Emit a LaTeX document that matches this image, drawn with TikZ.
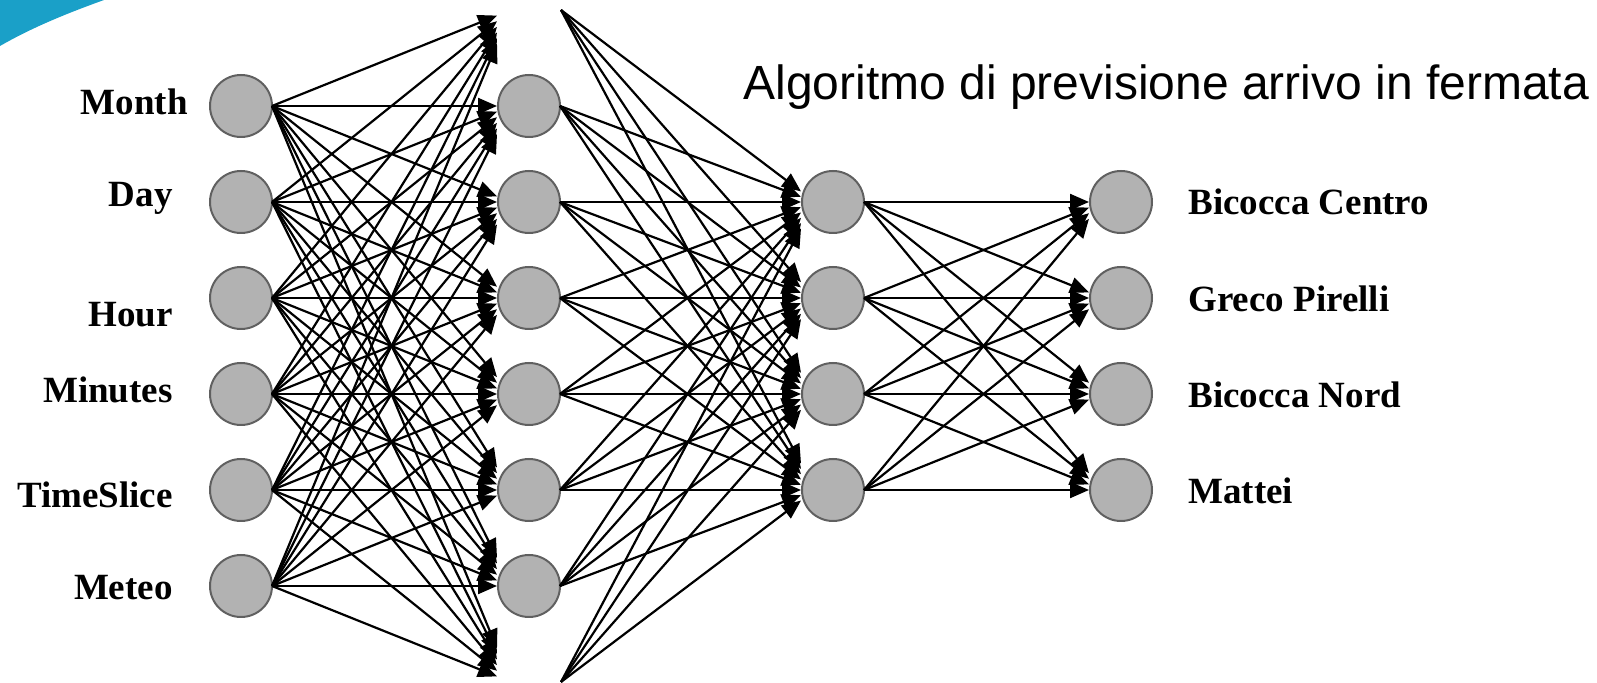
\documentclass[tikz,border=0pt]{standalone}
\usepackage{fontspec}
\setmainfont{Liberation Serif}
\newfontfamily\arialfont{Liberation Sans}
\usetikzlibrary{arrows.meta}
\definecolor{nodefill}{RGB}{178,178,178}
\definecolor{nodeline}{RGB}{96,96,96}
\definecolor{swoosh}{RGB}{26,160,200}
\begin{document}
\begin{tikzpicture}[x=0.5pt,y=-0.5pt,
  neuron/.style={circle, minimum size=31pt, inner sep=0pt, outer sep=0pt,
    draw=nodeline, fill=nodefill, line width=1pt},
  port/.style={rectangle, minimum width=14pt, minimum height=100pt,
    inner sep=0pt, outer sep=0pt},
  conn/.style={line width=1.1pt, -{Triangle[length=9.5pt,width=8pt]}},
  lab/.style={font=\bfseries\fontsize{18.5}{20}\selectfont, inner sep=0pt}]
\clip (0,0) rectangle (1597,683);
\fill[white] (0,0) rectangle (1597,683);
\fill[swoosh] (0,0) -- (104,0) .. controls (68,13) and (33,27) .. (0,46) -- cycle;

% input layer
\foreach \k in {1,...,6}
  \node[neuron] (in\k) at (241,{10+96*\k}) {};
% hidden layer 1 (top and bottom ones lie off the picture)
\foreach \k in {1,...,6}
  \node[neuron] (ha\k) at (529,{10+96*\k}) {};
\foreach \k in {0,...,7}
  \node[port] (pa\k) at (511,{10+96*\k}) {};
\coordinate (ha0) at (529,10);
\coordinate (ha7) at (529,682);
% hidden layer 2
\foreach \k in {1,...,4}{
  \node[neuron] (hb\k) at (833,{106+96*\k}) {};
  \node[port] (pb\k) at (815,{106+96*\k}) {};}
% output layer
\foreach \k in {1,...,4}{
  \node[neuron] (out\k) at (1121,{106+96*\k}) {};
  \node[port] (po\k) at (1103,{106+96*\k}) {};}

% connections
\foreach \i in {1,...,6}
  \foreach \h in {0,...,7}
    \draw[conn] (in\i.east) -- (pa\h);
\foreach \h in {1,...,6}
  \foreach \j in {1,...,4}
    \draw[conn] (ha\h.east) -- (pb\j);
\foreach \j in {1,...,4}{
  \draw[conn] ([xshift=16pt]ha0) -- (pb\j);
  \draw[conn] ([xshift=16pt]ha7) -- (pb\j);}
\foreach \j in {1,...,4}
  \foreach \o in {1,...,4}
    \draw[conn] (hb\j.east) -- (po\o);

% input labels
\node[lab, anchor=base east] (lmonth) at (188,115) {Month};
\node[lab, anchor=base east] (lday) at (173,207) {Day};
\node[lab, anchor=base east] (lhour) at (173,327) {Hour};
\node[lab, anchor=base east] (lmin) at (173,403) {Minutes};
\node[lab, anchor=base east] (lslice) at (173,508) {TimeSlice};
\node[lab, anchor=base east] (lmeteo) at (173,600) {Meteo};
% output labels
\node[lab, anchor=base west] (lo1) at (1188,215) {Bicocca Centro};
\node[lab, anchor=base west] (lo2) at (1188,312) {Greco Pirelli};
\node[lab, anchor=base west] (lo3) at (1188,408) {Bicocca Nord};
\node[lab, anchor=base west] (lo4) at (1188,504) {Mattei};

% title
\node[anchor=base west, inner sep=0pt, font=\arialfont\fontsize{24}{28}\selectfont] (title) at (743,100) {Algoritmo di previsione arrivo in fermata};
\end{tikzpicture}
\end{document}
